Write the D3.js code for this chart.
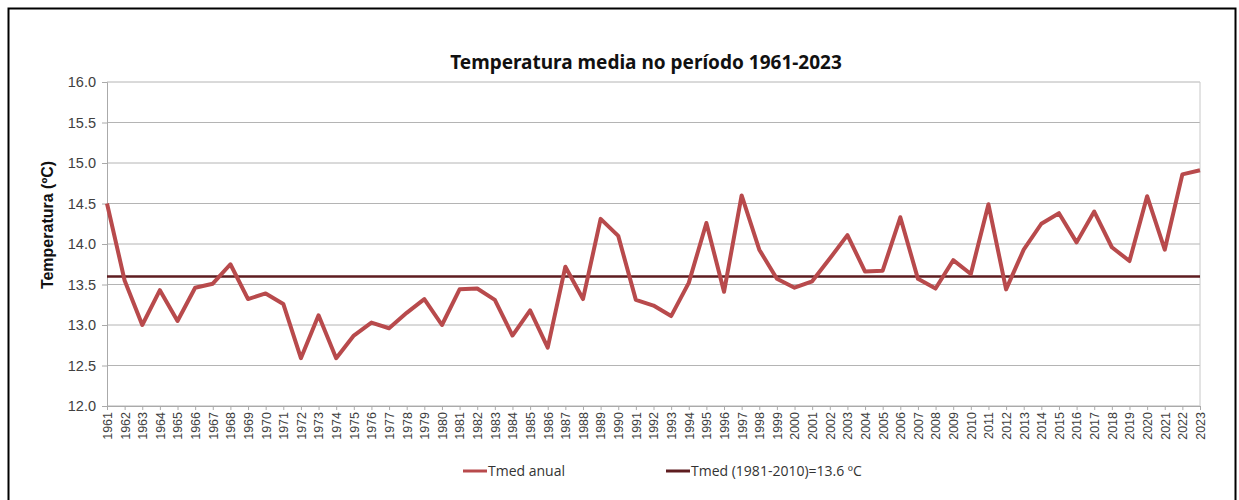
<!DOCTYPE html>
<html>
<head>
<meta charset="utf-8">
<script src="https://cdn.jsdelivr.net/npm/d3@7"></script>
<style>
  body { margin: 0; background: #fff; }
  svg { display: block; }
</style>
</head>
<body>
<script>
var years = d3.range(1961, 2024);
var tmed = [14.50, 13.55, 13.00, 13.43, 13.05, 13.46, 13.51, 13.75, 13.32, 13.39,
            13.26, 12.59, 13.12, 12.59, 12.87, 13.03, 12.96, 13.15, 13.32, 13.00,
            13.44, 13.45, 13.31, 12.87, 13.18, 12.72, 13.72, 13.32, 14.31, 14.10,
            13.31, 13.24, 13.11, 13.52, 14.26, 13.41, 14.60, 13.93, 13.57, 13.46,
            13.54, 13.82, 14.11, 13.66, 13.67, 14.33, 13.57, 13.45, 13.80, 13.63,
            14.49, 13.44, 13.93, 14.25, 14.38, 14.02, 14.40, 13.96, 13.79, 14.59,
            13.93, 14.86, 14.91];
var normal = 13.6;
var yTicks = [12.0, 12.5, 13.0, 13.5, 14.0, 14.5, 15.0, 15.5, 16.0];
var seriesNames = ["Tmed anual", "Tmed (1981-2010)=13.6 ºC"];

var chart = (function() {
    var w = 1239, h = 500;
    var pLeft = 107, pRight = 1200, pTop = 82, pBottom = 406;

    var svg = d3.select("body")
                .append("svg")
                .attr("width", w)
                .attr("height", h);

    // outer frame
    svg.append("rect")
        .attr("x", 8.5).attr("y", 8.5)
        .attr("width", 1227).attr("height", 500)
        .attr("fill", "none")
        .attr("stroke", "#000")
        .attr("stroke-width", 2);

    var xScale = d3.scalePoint()
                    .domain(years)
                    .range([pLeft, pRight]);

    var yScale = d3.scaleLinear()
                    .domain([12, 16])
                    .range([pBottom, pTop]);

    // grid
    svg.append("g")
        .selectAll("line")
        .data(yTicks)
        .enter()
        .append("line")
        .attr("x1", pLeft).attr("x2", pRight)
        .attr("y1", d => yScale(d)).attr("y2", d => yScale(d))
        .attr("stroke", "#b4b4b4")
        .attr("stroke-width", 1);

    // right border of plot
    svg.append("line")
        .attr("x1", pRight).attr("x2", pRight)
        .attr("y1", pTop).attr("y2", pBottom)
        .attr("stroke", "#c8c8c8");

    var yAxis = d3.axisLeft()
                .scale(yScale)
                .tickValues(yTicks)
                .tickFormat(d3.format(".1f"))
                .tickSize(5)
                .tickPadding(6);

    var gy = svg.append("g")
        .attr("transform", "translate(" + pLeft + ",0)")
        .call(yAxis);
    gy.select(".domain").attr("stroke", "#aaa");
    gy.selectAll(".tick line").attr("stroke", "#aaa");
    gy.selectAll(".tick text")
        .attr("fill", "#404040")
        .style("font-family", "'Liberation Sans', Arial, sans-serif")
        .style("font-size", "14.5px");

    var xAxis = d3.axisBottom()
                .scale(xScale)
                .tickSize(4)
                .tickSizeOuter(0);

    var gx = svg.append("g")
        .attr("transform", "translate(0," + pBottom + ")")
        .call(xAxis);
    gx.select(".domain").attr("stroke", "#aaa");
    gx.selectAll(".tick line").attr("stroke", "#aaa");
    gx.selectAll(".tick text")
        .attr("fill", "#404040")
        .attr("transform", "rotate(-90)")
        .attr("text-anchor", "end")
        .attr("x", -6)
        .attr("y", 0)
        .attr("dy", "0.35em")
        .style("font-family", "'Liberation Sans', Arial, sans-serif")
        .style("font-size", "12.5px");

    // reference line
    svg.append("line")
        .attr("x1", pLeft).attr("x2", pRight)
        .attr("y1", yScale(normal)).attr("y2", yScale(normal))
        .attr("stroke", "#5e1d20")
        .attr("stroke-width", 2.5);

    var line = d3.line()
                .x((d, i) => xScale(years[i]))
                .y(d => yScale(d));

    svg.append("path")
        .datum(tmed)
        .attr("d", line)
        .attr("fill", "none")
        .attr("stroke", "#b84a4c")
        .attr("stroke-width", 4)
        .attr("stroke-linejoin", "round");

    // title
    svg.append("text")
        .attr("x", 646).attr("y", 69)
        .attr("text-anchor", "middle")
        .attr("fill", "#111")
        .style("font-family", "'Noto Sans', sans-serif")
        .style("font-weight", "bold")
        .style("font-size", "19px")
        .text("Temperatura media no período 1961-2023");

    // y title
    svg.append("text")
        .attr("transform", "translate(53,225) rotate(-90)")
        .attr("text-anchor", "middle")
        .attr("fill", "#111")
        .style("font-family", "'Liberation Sans', Arial, sans-serif")
        .style("font-weight", "bold")
        .style("font-size", "16px")
        .text("Temperatura (ºC)");

    // legend
    var legX = [463, 666];
    var legColors = ["#b84a4c", "#5e1d20"];
    var leg = svg.append("g")
        .selectAll("g")
        .data(seriesNames)
        .enter()
        .append("g")
        .attr("transform", (d, i) => "translate(" + legX[i] + ",471)");

    leg.append("line")
        .attr("x1", 0).attr("x2", 24)
        .attr("stroke", (d, i) => legColors[i])
        .attr("stroke-width", 3);

    leg.append("text")
        .attr("x", 25)
        .attr("dy", "0.35em")
        .attr("fill", "#333")
        .style("font-family", "'Open Sans', sans-serif")
        .style("font-size", "14px")
        .text(d => d);
})();
</script>
</body>
</html>
